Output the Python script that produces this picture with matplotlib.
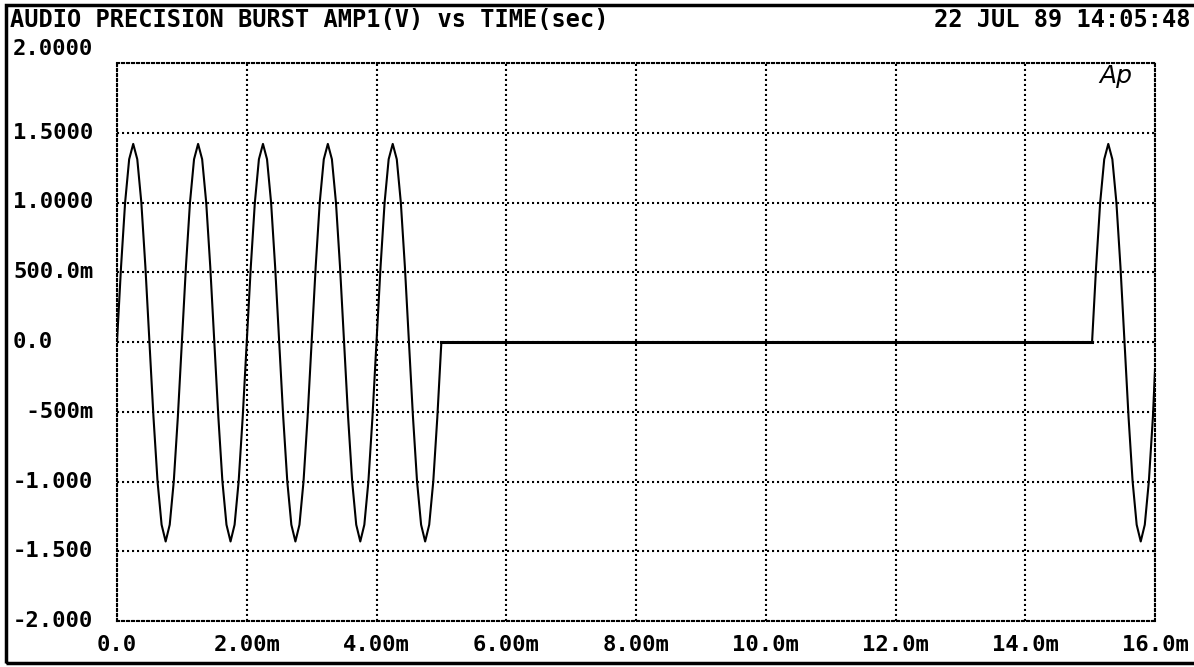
import numpy as np
import matplotlib
matplotlib.use('Agg')
import matplotlib.pyplot as plt
import matplotlib.transforms as mtransforms
from matplotlib.patches import Rectangle

# burst 1: 0 .. 5 ms, sampled every 0.0625 ms (values in V)
burst1_start = 0.0
burst1_amp = [0.0, 0.54, 1.0, 1.31, 1.42, 1.31, 1.0, 0.54, 0.0, -0.54, -1.0, -1.31, -1.43, -1.31, -1.0, -0.54,
              0.0, 0.54, 1.0, 1.31, 1.42, 1.31, 1.0, 0.54, 0.0, -0.54, -1.0, -1.31, -1.43, -1.31, -1.0, -0.54,
              0.0, 0.54, 1.0, 1.31, 1.42, 1.31, 1.0, 0.54, 0.0, -0.54, -1.0, -1.31, -1.43, -1.31, -1.0, -0.54,
              0.0, 0.54, 1.0, 1.31, 1.42, 1.31, 1.0, 0.54, 0.0, -0.54, -1.0, -1.31, -1.43, -1.31, -1.0, -0.54,
              0.0, 0.54, 1.0, 1.31, 1.42, 1.31, 1.0, 0.54, 0.0, -0.54, -1.0, -1.31, -1.43, -1.31, -1.0, -0.54,
              0.0]
# silence between bursts
gap_time = [5.0, 5.03, 15.03]
gap_amp = [0.0, 0.0, 0.0]
# burst 2: from 15.03 ms to the end of the sweep
burst2_start = 15.03
burst2_amp = [0.0, 0.54, 1.0, 1.31, 1.42, 1.31, 1.0, 0.54, 0.0, -0.54, -1.0, -1.31, -1.43, -1.31, -1.0, -0.54, -0.2]
sample_step = 0.0625

x_ticks = [0, 2, 4, 6, 8, 10, 12, 14, 16]
x_labels = ['0.0', '2.00m', '4.00m', '6.00m', '8.00m', '10.0m', '12.0m', '14.0m', '16.0m']
y_ticks = [2.0, 1.5, 1.0, 0.5, 0.0, -0.5, -1.0, -1.5, -2.0]
y_labels = ['2.0000', '1.5000', '1.0000', '500.0m', '0.0', ' -500m', '-1.000', '-1.500', '-2.000']

mono = 'DejaVu Sans Mono'
W, H = 1194, 667

fig = plt.figure(figsize=(W / 100, H / 100), dpi=100)
ax = fig.add_axes([117 / W, 1 - 621 / H, (1155 - 117) / W, (621 - 63) / H])

t1 = burst1_start + np.arange(len(burst1_amp)) * sample_step
t2 = burst2_start + np.arange(len(burst2_amp)) * sample_step
t2[-1] = 16.0

ax.plot(t1, burst1_amp, color='black', lw=1.5)
ax.plot(gap_time, gap_amp, color='black', lw=2.2)
ax.plot(t2, burst2_amp, color='black', lw=1.5)

ax.set_xlim(0, 16)
ax.set_ylim(-2, 2)
ax.set_xticks(x_ticks)
ax.set_xticklabels(x_labels, fontfamily=mono, fontweight='bold', fontsize=16)
ax.set_yticks(y_ticks)
ax.set_yticklabels([])
ax.tick_params(length=0)
ax.tick_params(axis='x', pad=10)

dots = (0, (1, 1.4))
ax.grid(True, color='black', lw=1.5, linestyle=dots)
for s in ax.spines.values():
    s.set_linestyle(dots)
    s.set_linewidth(1.5)

# y labels, left aligned at the page margin
trans = mtransforms.blended_transform_factory(fig.transFigure, ax.transData)
for val, lab in zip(y_ticks, y_labels):
    yy = val + 0.1 if val == 2.0 else val
    ax.text(13 / W, yy, lab, transform=trans, ha='left', va='center',
            fontfamily=mono, fontweight='bold', fontsize=16, clip_on=False)

fig.text(10 / W, 1 - 20 / H, 'AUDIO PRECISION BURST AMP1(V) vs TIME(sec)', ha='left', va='center',
         fontfamily=mono, fontweight='bold', fontsize=17)
fig.text(1190 / W, 1 - 20 / H, '22 JUL 89 14:05:48', ha='right', va='center',
         fontfamily=mono, fontweight='bold', fontsize=17)
fig.text(1116 / W, 1 - 76 / H, 'Ap', ha='center', va='center', style='italic',
         fontfamily='DejaVu Sans', fontweight='light', fontsize=18)

fig.patches.append(Rectangle((6 / W, 4 / H), 1.2, 1 - 9 / H, transform=fig.transFigure,
                             fill=False, edgecolor='black', lw=2.5))

fig.savefig('out.png', dpi=100)
